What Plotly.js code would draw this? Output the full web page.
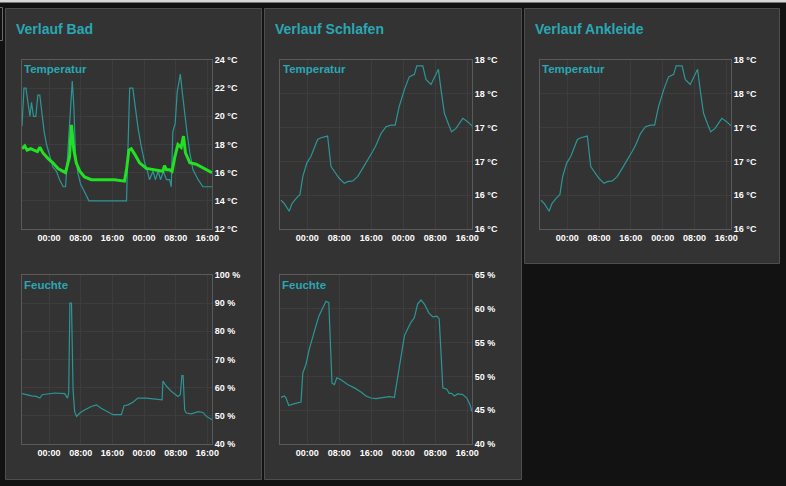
<!DOCTYPE html>
<html><head><meta charset="utf-8">
<script src="https://cdn.plot.ly/plotly-3.0.1.min.js"></script>
<style>html,body{margin:0;padding:0;background:#121212;}#chart{width:786px;height:486px;}</style>
</head><body><div id="chart"></div>
<script>
// ---- data (hours after window start, values) ----
const badTempHours = [0,0.5,1.0,1.7,2.0,2.4,2.9,3.5,4.0,4.5,5.1,5.6,6.2,7.0,7.8,8.7,9.5,10.4,11.0,11.5,12.3,12.7,13.1,13.5,14.1,14.8,15.5,16.3,16.9,26.4,26.8,27.2,28.0,28.6,29.3,30.1,31.0,31.7,32.2,33.1,33.7,34.4,35.0,35.7,36.5,37.3,37.7,38.1,38.7,39.2,40.0,40.5,41.1,41.7,42.4,43.2,44.5,45.7,48.0];
const badTemp = [19.3,22.0,22.0,20.7,20.0,21.0,20.0,20.0,21.5,21.5,20.0,18.9,18.0,17.1,16.4,16.1,15.5,15.0,15.0,17.1,20.7,22.5,20.7,17.4,16.0,15.2,14.8,14.4,14.0,14.0,18.3,22.0,22.0,20.5,19.2,17.9,16.7,16.1,15.5,16.1,15.5,16.1,15.5,16.1,15.5,15.5,15.0,18.9,19.5,21.7,23.0,21.7,20.0,18.8,17.4,16.2,15.5,15.0,15.0];
const badTempAvgHours = [0,0.7,1.3,2.2,3.0,3.9,4.5,5.3,6.6,7.8,9.1,10.4,11.0,11.6,12.0,12.5,12.7,13.1,13.7,14.6,15.8,17.5,20.0,23.4,25.9,26.4,27.0,27.6,28.5,29.7,31.4,33.5,35.6,36.0,36.5,37.3,37.9,38.6,39.4,40.2,40.8,41.3,42.4,44.0,46.1,48.0];
const badTempAvg = [17.7,17.9,17.6,17.7,17.6,17.5,17.8,17.4,17.0,16.7,16.3,16.1,16.0,16.7,17.1,19.4,18.9,17.6,16.7,16.1,15.7,15.5,15.5,15.5,15.4,16.2,17.6,17.7,17.3,16.7,16.3,16.2,16.1,16.5,16.2,16.2,16.1,17.1,18.0,17.8,18.6,17.4,16.7,16.6,16.3,16.0];
const badHumHours = [0,1.1,2.4,3.6,4.5,5.1,6.6,8.3,10.8,11.5,11.8,12.1,12.5,12.9,13.3,13.8,14.6,15.8,17.5,18.8,20.0,21.7,23.0,24.7,25.1,25.8,26.8,28.0,29.3,31.4,33.5,35.4,35.6,36.5,37.7,39.4,40.0,40.4,40.7,41.1,41.5,42.8,44.5,45.7,46.6,48.0];
const badHum = [57.9,57.5,57.1,56.9,56.3,57.5,57.9,58.1,57.9,56.3,58.1,90,90,59.3,51.5,49.8,51.0,52.1,53.3,53.9,52.7,51.5,50.4,50.4,50.4,53.6,53.9,54.8,56.3,56.3,56.0,55.7,62.3,60.5,58.7,56.9,57.5,64.3,64.3,52.1,51.0,50.7,51.5,51.2,49.8,48.6];
const schlTempHours = [0.25,1.1,2.3,3.0,4.0,5.0,5.7,6.7,7.75,8.6,9.4,10.25,11.9,12.75,13.6,14.8,16.1,16.9,18.2,19.4,20.7,22.3,23.2,24.0,25.25,26.5,27.75,28.8,29.8,31.1,32.3,33.6,34.2,35.7,36.5,37.75,38.8,39.6,40.25,41.1,42.2,42.9,44.0,45.7,46.9,48.0];
const schlTemp = [16.34,16.30,16.21,16.30,16.36,16.41,16.62,16.78,16.86,16.96,17.06,17.08,17.10,16.74,16.68,16.60,16.54,16.56,16.57,16.62,16.72,16.84,16.92,16.99,17.13,17.21,17.23,17.23,17.45,17.65,17.80,17.83,17.93,17.93,17.77,17.71,17.82,17.89,17.65,17.37,17.23,17.15,17.19,17.31,17.27,17.22];
const schlHumHours = [0.25,1.1,1.5,2.2,3.2,4.4,5.25,5.7,6.5,7.3,8.2,9.0,9.7,10.7,11.5,12.2,12.6,13.0,13.6,14.2,15.25,16.9,18.6,20.25,21.5,22.75,24.0,25.7,27.3,28.6,29.4,30.25,31.1,31.9,32.75,33.6,34.4,35.25,36.1,37.2,38.2,39.25,39.8,40.25,40.7,41.7,42.3,42.9,43.6,44.4,45.7,46.7,47.5,48.0];
const schlHum = [46.9,47.1,46.8,45.7,45.9,46.1,46.2,50.5,51.8,54.0,56.0,57.5,58.9,60.0,61.1,60.9,54.0,49.0,48.8,49.8,49.5,48.8,48.3,47.7,47.1,46.8,46.7,46.8,47.0,46.9,50.0,53.2,56.0,57.0,58.0,58.7,60.7,61.3,60.7,59.4,58.8,58.9,58.5,53.5,48.3,48.1,47.5,47.5,47.1,47.4,47.3,46.8,45.8,44.8];
const ankTempHours = schlTempHours.slice();
const ankTemp = schlTemp.slice();

const panelTitles = ['Verlauf Bad','Verlauf Schlafen','Verlauf Ankleide'];
const chartLabels = ['Temperatur','Feuchte'];

// ---- helpers ----
const W = 786, H = 486;
const START = Date.UTC(2024,2,1,17,10);
function toDate(h){ const d = new Date(START + h*3600000); return d.toISOString().slice(0,16).replace('T',' '); }
const px = x => x/W, py = y => 1 - y/H;
const TEAL = '#2c9696', GREEN = '#22e022', TITLE = '#2aa7b3';
const FONT = 'Liberation Sans, Arial, sans-serif';

function trace(hours, vals, n, color, width){
  return {x: hours.map(toDate), y: vals, xaxis: 'x'+(n===1?'':n), yaxis: 'y'+(n===1?'':n),
    type:'scatter', mode:'lines', line:{color:color, width:width, shape:'linear'}, hoverinfo:'skip', showlegend:false};
}
const data = [
  trace(badTempHours, badTemp, 1, TEAL, 1.2),
  trace(badTempAvgHours, badTempAvg, 1, GREEN, 3),
  trace(badHumHours, badHum, 2, TEAL, 1.2),
  trace(schlTempHours, schlTemp, 3, TEAL, 1.2),
  trace(schlHumHours, schlHum, 4, TEAL, 1.2),
  trace(ankTempHours, ankTemp, 5, TEAL, 1.2)
];
const TICKFONT = {family:FONT, size:9, color:'#ffffff', weight:'bold'};
function xax(x0, x1, n){
  return {domain:[px(x0),px(x1)], anchor:'y'+(n===1?'':n), type:'date', range:[toDate(0),toDate(48)],
    tickformat:'%H:%M', dtick: 8*3600000, tick0:'2024-03-02 00:00', showgrid:true, gridcolor:'#3d3d3d', gridwidth:1,
    showline:true, mirror:true, linecolor:'#5a5a5a', linewidth:1, zeroline:false, ticks:'',
    tickfont:TICKFONT, fixedrange:true};
}
function yax(y0, y1, n, extra){
  return Object.assign({domain:[py(y1),py(y0)], anchor:'x'+(n===1?'':n), side:'right', showgrid:true, gridcolor:'#3d3d3d',
    showline:true, mirror:true, linecolor:'#5a5a5a', linewidth:1, zeroline:false, ticks:'', tickmode:'linear',
    tickfont:TICKFONT, fixedrange:true}, extra);
}
const TOP=[60,229], BOT=[275,444];
const layout = {
  width:W, height:H, autosize:false, margin:{l:0,r:0,t:0,b:0},
  paper_bgcolor:'#121212', plot_bgcolor:'rgba(0,0,0,0)', showlegend:false,
  xaxis: xax(22,212,1), yaxis: yax(TOP[0],TOP[1],1,{range:[12,24], tick0:12, dtick:2, ticksuffix:' °C'}),
  xaxis2: xax(22,212,2), yaxis2: yax(BOT[0],BOT[1],2,{range:[40,100], tick0:40, dtick:10, ticksuffix:' %'}),
  xaxis3: xax(280,472,3), yaxis3: yax(TOP[0],TOP[1],3,{range:[16,18], tick0:16, dtick:0.4, tickformat:'.0f', ticksuffix:' °C'}),
  xaxis4: xax(280,472,4), yaxis4: yax(BOT[0],BOT[1],4,{range:[40,65], tick0:40, dtick:5, ticksuffix:' %'}),
  xaxis5: xax(540,731,5), yaxis5: yax(TOP[0],TOP[1],5,{range:[16,18], tick0:16, dtick:0.4, tickformat:'.0f', ticksuffix:' °C'}),
  shapes: [
    {type:'rect', xref:'paper', yref:'paper', x0:0, x1:1, y0:py(0), y1:py(2.5), fillcolor:'#d8d8d8', line:{width:0}, layer:'below'},
    {type:'rect', xref:'paper', yref:'paper', x0:px(-5), x1:px(2.5), y0:py(7.5), y1:py(40.5), fillcolor:'rgba(0,0,0,0)', line:{color:'#6a6a6a', width:1}, layer:'below'},
    {type:'rect', xref:'paper', yref:'paper', x0:px(5.5), x1:px(261.5), y0:py(8.5), y1:py(479.5), fillcolor:'#333333', line:{color:'#4e4e4e', width:1}, layer:'below'},
    {type:'rect', xref:'paper', yref:'paper', x0:px(264.5), x1:px(521.5), y0:py(8.5), y1:py(479.5), fillcolor:'#333333', line:{color:'#4e4e4e', width:1}, layer:'below'},
    {type:'rect', xref:'paper', yref:'paper', x0:px(524.5), x1:px(779.5), y0:py(8.5), y1:py(263.5), fillcolor:'#333333', line:{color:'#4e4e4e', width:1}, layer:'below'}
  ],
  annotations: []
};
function ann(text, x, y, size){
  layout.annotations.push({text: '<b>'+text+'</b>', xref:'paper', yref:'paper', x:px(x), y:py(y),
    xanchor:'left', yanchor:'middle', showarrow:false, font:{family:FONT, size:size, color:TITLE, weight:'bold'}, borderpad:0});
}
ann(panelTitles[0], 15, 29, 14);
ann(panelTitles[1], 274, 29, 14);
ann(panelTitles[2], 534, 29, 14);
ann(chartLabels[0], 23, 69, 11.5);
ann(chartLabels[1], 23, 285, 11.5);
ann(chartLabels[0], 282, 69, 11.5);
ann(chartLabels[1], 281, 285, 11.5);
ann(chartLabels[0], 541, 69, 11.5);

Plotly.newPlot('chart', data, layout, {staticPlot:true, displayModeBar:false});
</script></body></html>
